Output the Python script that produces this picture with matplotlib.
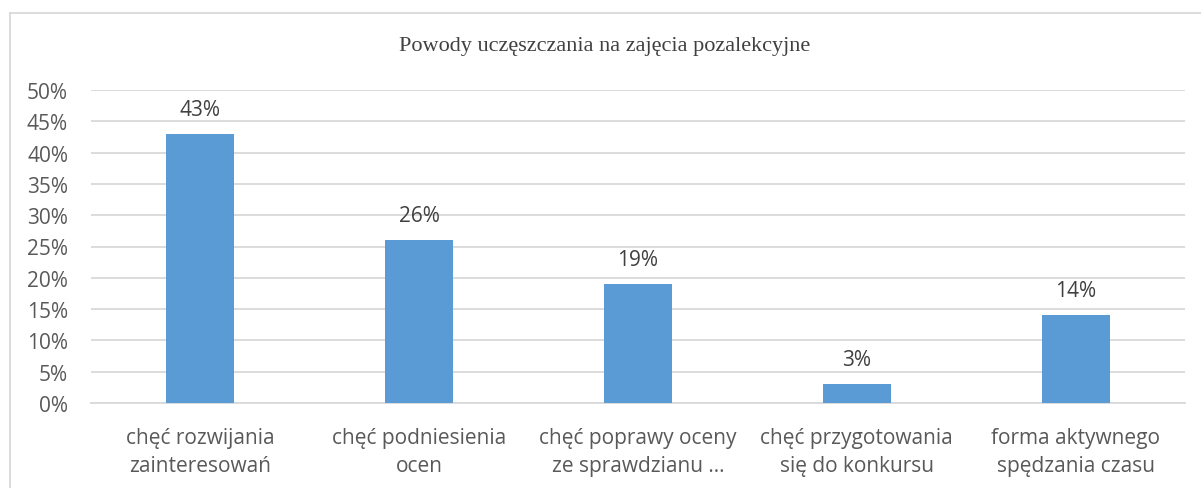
import matplotlib
matplotlib.use("Agg")
import matplotlib.pyplot as plt
from matplotlib.lines import Line2D
from matplotlib.ticker import PercentFormatter

# dane
categories = [
    "chęć rozwijania\nzainteresowań",
    "chęć podniesienia\nocen",
    "chęć poprawy oceny\nze sprawdzianu …",
    "chęć przygotowania\nsię do konkursu",
    "forma aktywnego\nspędzania czasu",
]
values = [43, 26, 19, 3, 14]
yticks = [0, 5, 10, 15, 20, 25, 30, 35, 40, 45, 50]
title = "Powody uczęszczania na zajęcia pozalekcyjne"

W, H = 1201, 489
fig = plt.figure(figsize=(W / 100, H / 100), dpi=100)
ax = fig.add_axes([91 / W, 1 - 404 / H, (1185 - 91) / W, (404 - 91) / H])

font = "Open Sans"
bar_color = "#5B9BD5"
grid_color = "#D9D9D9"

x = range(len(categories))
ax.bar(x, values, width=0.31, color=bar_color, zorder=3)

for xi, v in zip(x, values):
    ax.annotate(f"{v}%", (xi, v), xytext=(0, 10), textcoords="offset points",
                ha="center", va="bottom", fontsize=15, color="#404040", family=font)

ax.set_xlim(-0.5, len(categories) - 0.5)
ax.set_ylim(0, 50)
ax.set_yticks(yticks)
ax.yaxis.set_major_formatter(PercentFormatter(decimals=0))
ax.set_xticks(list(x))
ax.set_xticklabels(categories, linespacing=1.45)

ax.grid(axis="y", color=grid_color, linewidth=1.3, zorder=0)
for s in ["top", "right", "left"]:
    ax.spines[s].set_visible(False)
ax.spines["bottom"].set_color(grid_color)
ax.spines["bottom"].set_linewidth(1.3)
ax.tick_params(length=0, labelsize=15, labelcolor="#595959", pad=16.5)
ax.tick_params(axis="x", pad=17)
for lab in ax.get_xticklabels() + ax.get_yticklabels():
    lab.set_family(font)

fig.text(605 / W, 1 - 46 / H, title, ha="center", va="center",
         fontsize=16, family="Liberation Serif", color="#404040")

# ramka wykresu
fig.add_artist(Line2D([9.5 / W, 9.5 / W], [0, 1 - 13.5 / H], color=grid_color, linewidth=1.3))
fig.add_artist(Line2D([9.5 / W, 1], [1 - 13.5 / H, 1 - 13.5 / H], color=grid_color, linewidth=1.3))

fig.savefig("out.png", dpi=100)
